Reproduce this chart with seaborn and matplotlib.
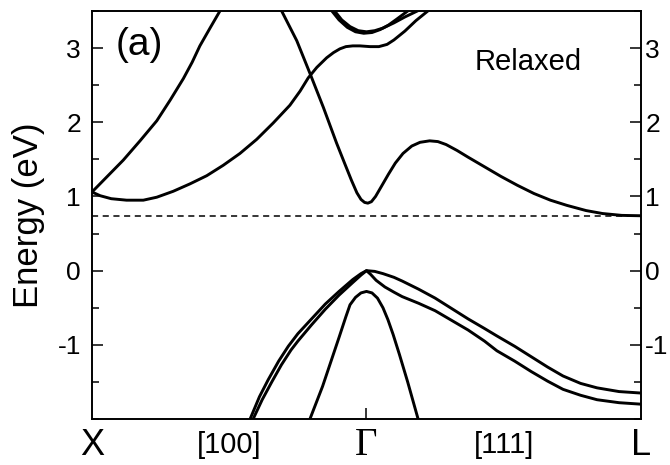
import pandas as pd
import matplotlib
matplotlib.use("Agg")
import matplotlib.pyplot as plt
import matplotlib.transforms as mtransforms
import seaborn as sns
from matplotlib.ticker import MultipleLocator

# Band energies (eV), k in units of the path (X=0, Gamma=1, L=2)
k_cb_low = [0.00, 0.03, 0.07, 0.126, 0.187, 0.236, 0.296, 0.357, 0.418, 0.478, 0.539, 0.600,
            0.660, 0.721, 0.758, 0.788, 0.819, 0.855, 0.88, 0.903, 0.925, 0.950, 0.976, 1.013,
            1.045, 1.075, 1.10, 1.14, 1.18, 1.22, 1.25]
e_cb_low = [1.06, 1.01, 0.97, 0.95, 0.95, 0.99, 1.07, 1.17, 1.28, 1.42, 1.58, 1.77,
            1.99, 2.23, 2.42, 2.60, 2.74, 2.87, 2.94, 2.99, 3.02, 3.03, 3.03, 3.02,
            3.02, 3.05, 3.11, 3.23, 3.37, 3.49, 3.58]

k_cb_steep_x = [0.00, 0.053, 0.114, 0.175, 0.236, 0.285, 0.333, 0.365, 0.393, 0.43, 0.466, 0.48]
e_cb_steep_x = [1.06, 1.26, 1.49, 1.75, 2.02, 2.30, 2.59, 2.81, 3.03, 3.27, 3.50, 3.60]

k_cb_gamma_l = [0.675, 0.691, 0.746, 0.794, 0.843, 0.891, 0.92, 0.945, 0.965, 0.98, 0.993, 1.005,
                1.018, 1.033, 1.055, 1.08, 1.105, 1.133, 1.165, 1.195, 1.23, 1.26, 1.29, 1.33,
                1.37, 1.43, 1.49, 1.55, 1.61, 1.67, 1.73, 1.80, 1.86, 1.93, 2.00]
e_cb_gamma_l = [3.60, 3.50, 3.10, 2.66, 2.20, 1.72, 1.45, 1.22, 1.05, 0.96, 0.92, 0.91,
                0.93, 1.00, 1.14, 1.30, 1.45, 1.58, 1.68, 1.73, 1.75, 1.74, 1.70, 1.62,
                1.53, 1.40, 1.27, 1.15, 1.04, 0.95, 0.88, 0.81, 0.77, 0.745, 0.74]

k_cb_top1 = [0.865, 0.874, 0.90, 0.93, 0.96, 0.99, 1.02, 1.05, 1.08, 1.11, 1.15, 1.17]
e_cb_top1 = [3.60, 3.50, 3.38, 3.28, 3.22, 3.20, 3.21, 3.25, 3.31, 3.39, 3.50, 3.56]
k_cb_top2 = [0.875, 0.884, 0.91, 0.94, 0.97, 1.00, 1.03, 1.06, 1.10, 1.14, 1.185, 1.20]
e_cb_top2 = [3.60, 3.50, 3.38, 3.29, 3.235, 3.22, 3.235, 3.27, 3.34, 3.42, 3.50, 3.53]

k_hh = [0.576, 0.61, 0.642, 0.68, 0.715, 0.75, 0.80, 0.85, 0.90, 0.95, 0.98, 1.00, 1.03, 1.06,
        1.10, 1.13, 1.19, 1.25, 1.31, 1.37, 1.43, 1.475, 1.54, 1.60, 1.66, 1.716, 1.78, 1.84,
        1.92, 2.00]
e_hh = [-2.00, -1.70, -1.47, -1.22, -1.02, -0.85, -0.65, -0.45, -0.28, -0.12, -0.04, 0.00,
        -0.01, -0.04, -0.09, -0.14, -0.25, -0.37, -0.51, -0.65, -0.78, -0.88, -1.02, -1.16,
        -1.30, -1.42, -1.52, -1.58, -1.63, -1.65]

k_lh = [0.587, 0.62, 0.655, 0.69, 0.725, 0.75, 0.80, 0.85, 0.90, 0.95, 0.98, 1.00, 1.015, 1.035,
        1.067, 1.10, 1.13, 1.19, 1.25, 1.31, 1.37, 1.43, 1.475, 1.54, 1.60, 1.66, 1.716, 1.78,
        1.84, 1.92, 2.00]
e_lh = [-2.00, -1.74, -1.50, -1.27, -1.07, -0.95, -0.73, -0.52, -0.33, -0.16, -0.06, 0.00,
        -0.05, -0.13, -0.22, -0.29, -0.35, -0.44, -0.54, -0.67, -0.80, -0.95, -1.08, -1.22,
        -1.36, -1.49, -1.60, -1.68, -1.74, -1.78, -1.80]

k_so = [0.794, 0.84, 0.87, 0.90, 0.925, 0.94, 0.96, 0.98, 1.00, 1.02, 1.04, 1.06, 1.078, 1.097,
        1.12, 1.15, 1.188]
e_so = [-2.00, -1.56, -1.23, -0.90, -0.62, -0.46, -0.36, -0.30, -0.28, -0.30, -0.37, -0.50,
        -0.66, -0.86, -1.13, -1.50, -2.00]

gap_energy = 0.74
energy_ticks = [-1, 0, 1, 2, 3]
path_ticks = [0, 0.5, 1, 1.5, 2]
path_labels = ["X", "[100]", "\u0393", "[111]", "L"]

bands = [(k_cb_low, e_cb_low), (k_cb_steep_x, e_cb_steep_x), (k_cb_gamma_l, e_cb_gamma_l),
         (k_cb_top1, e_cb_top1), (k_cb_top2, e_cb_top2),
         (k_hh, e_hh), (k_lh, e_lh), (k_so, e_so)]

sns.set_style("ticks")
plt.rcParams['font.family'] = ['Liberation Sans', 'DejaVu Sans']
plt.rcParams['axes.unicode_minus'] = False
for key in ['text.color', 'axes.labelcolor', 'xtick.color', 'ytick.color', 'axes.edgecolor']:
    plt.rcParams[key] = 'black'

fig = plt.figure(figsize=(6.7, 4.65), dpi=100)
ax = fig.add_axes([0.1373, 0.0989, 0.8194, 0.8774])

for kk, ee in bands:
    df = pd.DataFrame({"k": kk, "E": ee})
    sns.lineplot(data=df, x="k", y="E", sort=False, estimator=None, color="black",
                 linewidth=2.1, ax=ax)

ax.axhline(gap_energy, color="black", linewidth=1.1, linestyle=(0, (4, 3)))

ax.set_xlim(0, 2)
ax.set_ylim(-2, 3.5)
ax.set_xlabel("")
ax.set_ylabel("Energy (eV)", fontsize=25, labelpad=9)

# only the Gamma point carries a tick mark; path labels are placed as text
ax.set_xticks([path_ticks[2]])
ax.set_xticklabels([""])
ax.tick_params(axis="x", direction="in", length=8, width=1.1)
trans = mtransforms.blended_transform_factory(ax.transData, ax.transAxes)
label_sizes = [26, 21, 28, 21, 26]
label_y = [-0.088, -0.084, -0.087, -0.084, -0.088]
for xk, lab, fs, yy in zip(path_ticks, path_labels, label_sizes, label_y):
    fam = ["Liberation Serif"] if lab == "\u0393" else ["Liberation Sans"]
    ax.text(xk, yy, lab, transform=trans, ha="center", va="baseline", fontsize=fs,
            family=fam, clip_on=False)

ax.set_yticks(energy_ticks)
ax.yaxis.set_minor_locator(MultipleLocator(0.5))
ax.tick_params(axis="y", which="major", direction="in", length=8, width=1.1, labelsize=19, pad=8)
ax.tick_params(axis="y", which="minor", direction="in", length=5, width=1.1)

ax2 = ax.twinx()
ax2.set_ylim(ax.get_ylim())
ax2.set_yticks(energy_ticks)
ax2.yaxis.set_minor_locator(MultipleLocator(0.5))
ax2.tick_params(axis="y", which="major", direction="in", length=8, width=1.1, labelsize=19, pad=3)
ax2.tick_params(axis="y", which="minor", direction="in", length=5, width=1.1)

for a in (ax, ax2):
    for sp in a.spines.values():
        sp.set_linewidth(1.2)
        sp.set_visible(True)

ax.text(0.086, 0.917, "(a)", transform=ax.transAxes, fontsize=28, ha="center", va="center")
ax.text(0.794, 0.875, "Relaxed", transform=ax.transAxes, fontsize=21, ha="center", va="center")

fig.savefig("out.png", dpi=100)
